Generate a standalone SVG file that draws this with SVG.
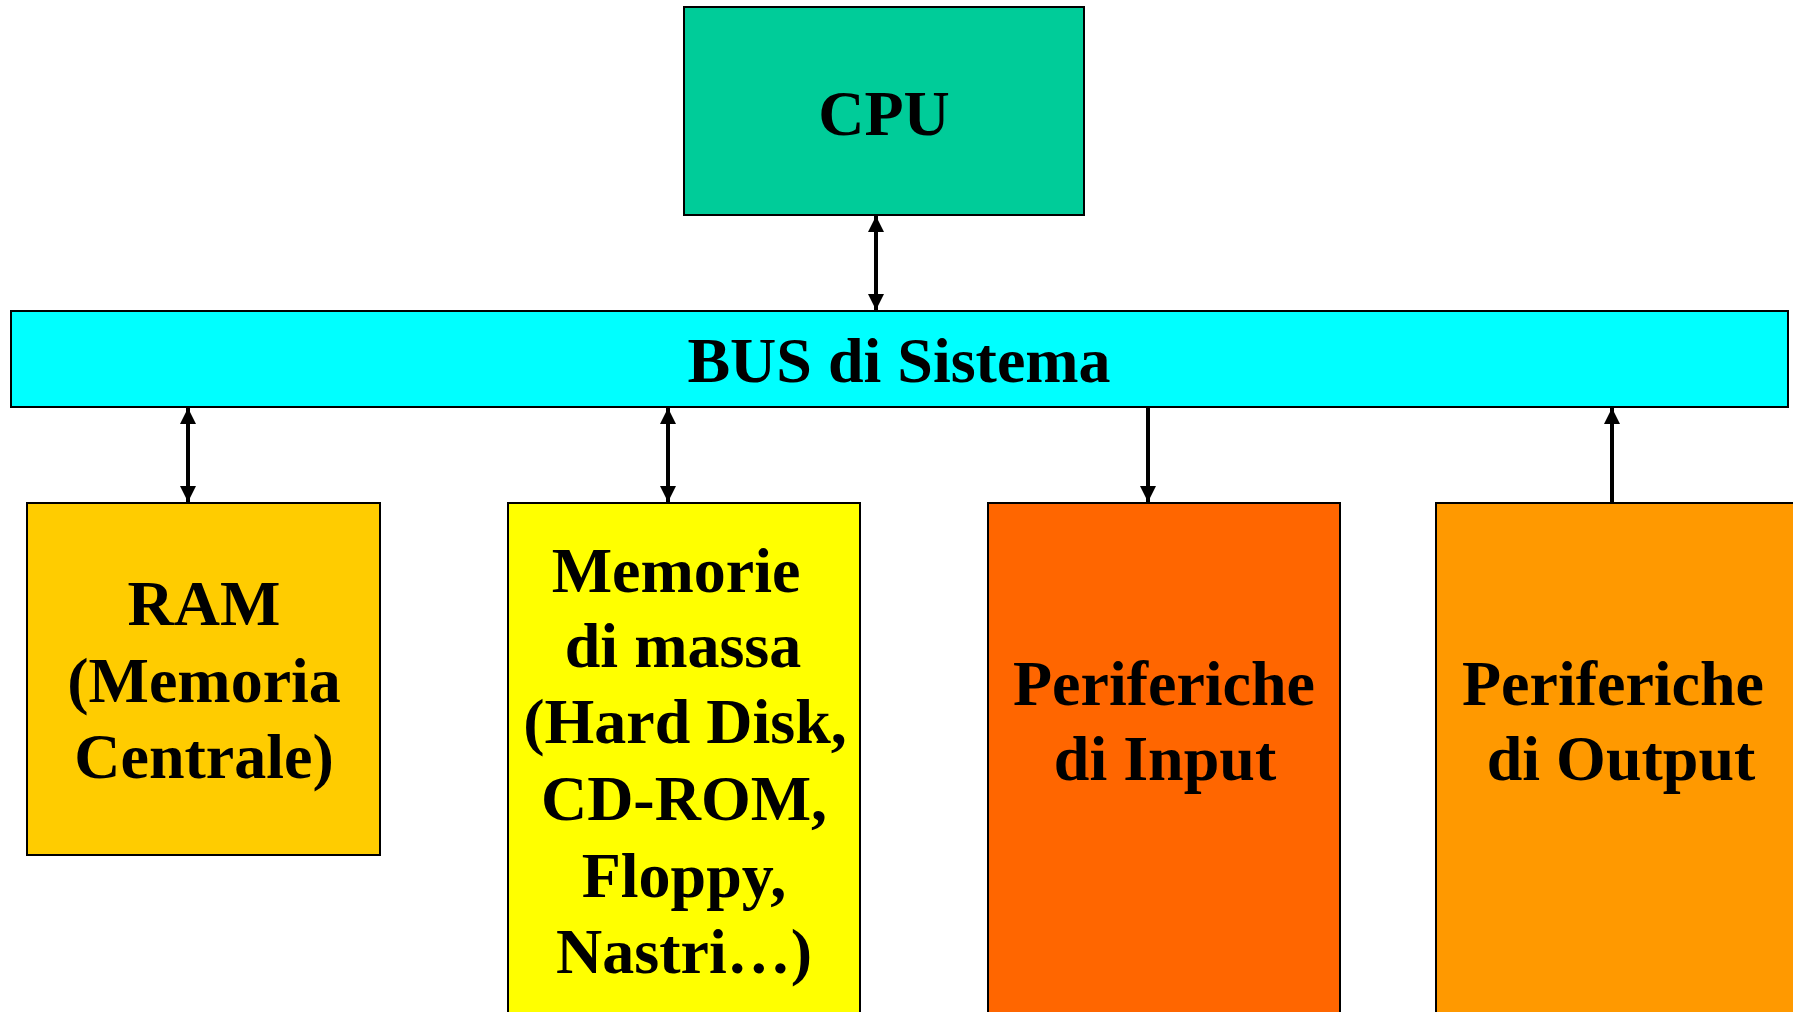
<svg xmlns="http://www.w3.org/2000/svg" width="1793" height="1012" viewBox="0 0 1793 1012">
<style>
.box{stroke:#000;stroke-width:2}
.lbl{font-family:"Liberation Serif","Times New Roman",serif;font-weight:bold;font-size:64px;fill:#000;text-anchor:middle}
.conn{stroke:#000;stroke-width:4;fill:none}
</style>
<defs>
<marker id="ah" viewBox="0 0 16 16" refX="16" refY="8" markerWidth="16" markerHeight="16" markerUnits="userSpaceOnUse" orient="auto-start-reverse">
<path d="M0,0 L16,8 L0,16 z" fill="#000"/>
</marker>
</defs>
<rect width="1793" height="1012" fill="#fff"/>
<g id="cpu">
<rect class="box" x="684" y="7" width="400" height="208" fill="#00CC99"/>
<text class="lbl" x="884" y="135">CPU</text>
</g>
<g id="bus">
<rect class="box" x="11" y="311" width="1777" height="96" fill="#00FFFF"/>
<text class="lbl" x="899" y="382">BUS di Sistema</text>
</g>
<g id="ram">
<rect class="box" x="27" y="503" width="353" height="352" fill="#FFCC00"/>
<text class="lbl" x="204" y="625">RAM</text>
<text class="lbl" x="204" y="702">(Memoria</text>
<text class="lbl" x="204" y="778">Centrale)</text>
</g>
<g id="memorie">
<rect class="box" x="508" y="503" width="352" height="520" fill="#FFFF00"/>
<text class="lbl" x="676" y="592">Memorie</text>
<text class="lbl" x="683" y="667">di massa</text>
<text class="lbl" x="685" y="743">(Hard Disk,</text>
<text class="lbl" x="684" y="820">CD-ROM,</text>
<text class="lbl" x="684" y="897">Floppy,</text>
<text class="lbl" x="684" y="973">Nastri…)</text>
</g>
<g id="input">
<rect class="box" x="988" y="503" width="352" height="520" fill="#FF6600"/>
<text class="lbl" x="1164" y="705">Periferiche</text>
<text class="lbl" x="1165" y="780">di Input</text>
</g>
<g id="output">
<rect class="box" x="1436" y="503" width="370" height="520" fill="#FF9900"/>
<text class="lbl" x="1613" y="705">Periferiche</text>
<text class="lbl" x="1621" y="780">di Output</text>
</g>
<g id="connectors">
<line class="conn" x1="876" y1="216" x2="876" y2="310" marker-start="url(#ah)" marker-end="url(#ah)"/>
<line class="conn" x1="188" y1="408" x2="188" y2="502" marker-start="url(#ah)" marker-end="url(#ah)"/>
<line class="conn" x1="668" y1="408" x2="668" y2="502" marker-start="url(#ah)" marker-end="url(#ah)"/>
<line class="conn" x1="1148" y1="408" x2="1148" y2="502" marker-end="url(#ah)"/>
<line class="conn" x1="1612" y1="502" x2="1612" y2="408" marker-end="url(#ah)"/>
</g>
</svg>
